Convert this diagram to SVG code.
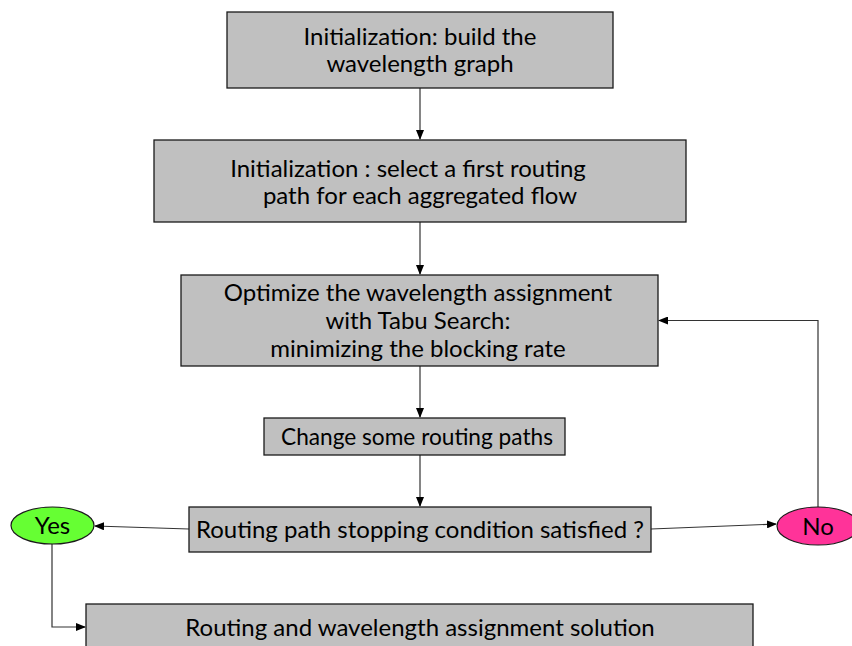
<svg xmlns="http://www.w3.org/2000/svg" width="852" height="646" viewBox="0 0 852 646">
  <style>
    .box { fill: #c0c0c0; stroke: #1a1a1a; stroke-width: 1.3; }
    .lbl { font-family: "Comic Sans MS", "Lato", sans-serif; font-size: 24px; fill: #000; text-anchor: middle; }
    .wire { fill: none; stroke: #333; stroke-width: 1.2; }
  </style>
  <defs>
    <marker id="tip" markerWidth="10" markerHeight="8" refX="9" refY="4" orient="auto" markerUnits="userSpaceOnUse">
      <path d="M0,0 L10,4 L0,8 Z" fill="#000"/>
    </marker>
  </defs>

  <rect width="852" height="646" fill="#fff"/>

  <!-- connectors -->
  <g id="connectors">
    <line class="wire" x1="420" y1="88" x2="420" y2="139" marker-end="url(#tip)"/>
    <line class="wire" x1="420" y1="222" x2="420" y2="274" marker-end="url(#tip)"/>
    <line class="wire" x1="420" y1="366" x2="420" y2="417" marker-end="url(#tip)"/>
    <line class="wire" x1="420" y1="455" x2="420" y2="506" marker-end="url(#tip)"/>
    <line class="wire" x1="189" y1="529" x2="95" y2="526" marker-end="url(#tip)"/>
    <line class="wire" x1="651" y1="529" x2="776" y2="524" marker-end="url(#tip)"/>
    <polyline class="wire" points="818,507 818,320.5 659,320.5" marker-end="url(#tip)"/>
    <polyline class="wire" points="52,544 52,627 85,627" marker-end="url(#tip)"/>
  </g>

  <!-- process steps -->
  <g id="init-graph">
    <rect class="box" x="227" y="12" width="386" height="76"/>
    <text class="lbl" x="420" y="45">Initialization: build the</text>
    <text class="lbl" x="420" y="72">wavelength graph</text>
  </g>

  <g id="init-routing">
    <rect class="box" x="154" y="140" width="532" height="82"/>
    <text class="lbl" x="408" y="177">Initialization : select a first routing</text>
    <text class="lbl" x="420" y="204">path for each aggregated flow</text>
  </g>

  <g id="tabu-search">
    <rect class="box" x="181" y="275" width="477" height="91"/>
    <text class="lbl" x="418" y="301">Optimize the wavelength assignment</text>
    <text class="lbl" x="418" y="329">with Tabu Search:</text>
    <text class="lbl" x="418" y="357">minimizing the blocking rate</text>
  </g>

  <g id="change-paths">
    <rect class="box" x="264" y="418" width="301" height="37"/>
    <text class="lbl" x="417" y="445" textLength="272" lengthAdjust="spacingAndGlyphs">Change some routing paths</text>
  </g>

  <g id="stop-condition">
    <rect class="box" x="189" y="507" width="462" height="45"/>
    <text class="lbl" x="420" y="538">Routing path stopping condition satisfied ?</text>
  </g>

  <!-- decision outcomes -->
  <g id="yes">
    <ellipse cx="52.5" cy="525.5" rx="41.5" ry="18.5" fill="#66ff33" stroke="#1a1a1a" stroke-width="1.2"/>
    <text class="lbl" x="52.5" y="534">Yes</text>
  </g>

  <g id="no">
    <ellipse cx="818" cy="526" rx="41" ry="19" fill="#ff3399" stroke="#1a1a1a" stroke-width="1.2"/>
    <text class="lbl" x="818" y="535">No</text>
  </g>

  <g id="solution">
    <rect class="box" x="86" y="604" width="667" height="60"/>
    <text class="lbl" x="420" y="636">Routing and wavelength assignment solution</text>
  </g>
</svg>
